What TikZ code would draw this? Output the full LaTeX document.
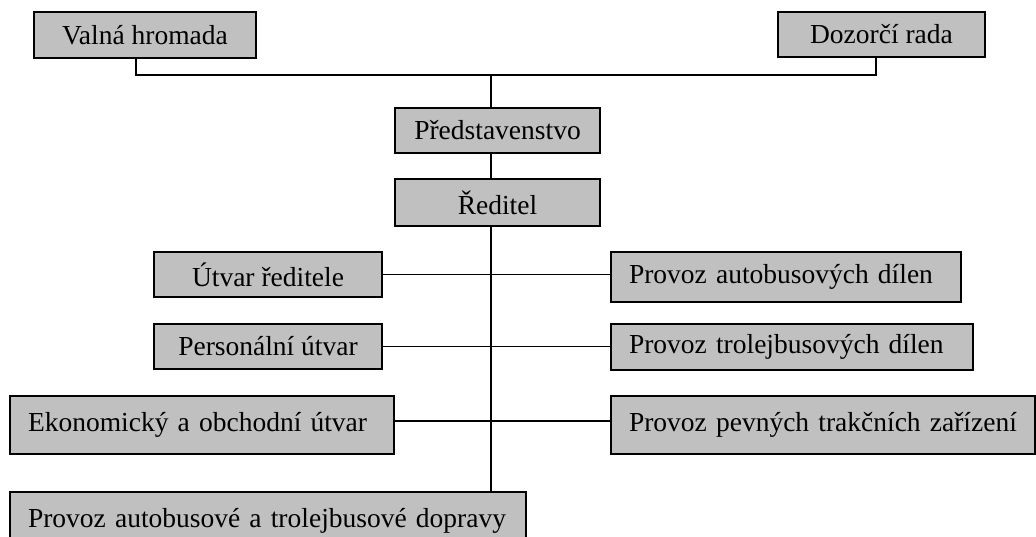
\documentclass[tikz,border=0pt]{standalone}
\usepackage{fontspec}
\setmainfont{Liberation Serif}
\usetikzlibrary{calc}
\definecolor{boxgray}{HTML}{C0C0C0}
\newcommand{\orgfont}{\fontsize{27.5}{33}\selectfont}

\begin{document}
\begin{tikzpicture}[x=1pt,y=-1pt,
  unit/.style={draw,line width=1.4pt,fill=boxgray,inner ysep=0pt,font=\orgfont},
  mid/.style={unit,align=center},
  inset/.style={unit,inner xsep=18pt,align=left},
  link/.style={line width=1.6pt}]
\useasboundingbox (0,0) rectangle (1036,537);
% Top level
\node[mid,minimum width=222pt,minimum height=46pt] (valna) at (145,35) {Valná hromada};
\node[mid,minimum width=207pt,minimum height=45pt] (dozor) at (881.5,34.5) {Dozorčí rada};
% Board and director
\node[mid,minimum width=205pt,minimum height=45pt] (pred) at (497.5,130.5) {Představenstvo};
\node[mid,minimum width=205pt,minimum height=47pt] (red) at (497.5,202.5) {Ředitel};
% Left branches
\node[mid,minimum width=228pt,minimum height=45pt] (utvar) at (268,274.5) {Útvar ředitele};
\node[mid,minimum width=228pt,minimum height=45pt] (pers) at (268,346.5) {Personální útvar};
\node[inset,text width=348pt,minimum height=58pt] (eko) at (202,425) {Ekonomický a obchodní útvar};
\node[inset,text width=480pt,minimum height=58pt] (dopr) at (268,521) {Provoz autobusové a trolejbusové dopravy};
% Right branches
\node[inset,text width=314pt,minimum height=50pt] (autob) at (786,277) {Provoz autobusových dílen};
\node[inset,text width=326pt,minimum height=46pt] (trol) at (792,347) {Provoz trolejbusových dílen};
\node[inset,text width=388pt,minimum height=58pt] (pevn) at (823,425) {Provoz pevných trakčních zařízení};
% Bus between the two top boxes
\coordinate (bus) at (491,75);
\draw[link] ([xshift=-9pt]valna.south) |- (bus) -| ([xshift=-5.5pt]dozor.south);
% Trunk down the middle
\draw[link] (bus) -- (bus |- pred.north);
\draw[link] (pred.south -| bus) -- (red.north -| bus);
\draw[link] (red.south -| bus) -- (dopr.north -| bus);
% Cross lines to the branches
\draw[link] (utvar.east) -- (utvar.east -| autob.west);
\draw[link] (pers.east) -- (pers.east -| trol.west);
\draw[link] ([yshift=4pt]eko.east) -- ([yshift=4pt]eko.east -| pevn.west);
\end{tikzpicture}
\end{document}
